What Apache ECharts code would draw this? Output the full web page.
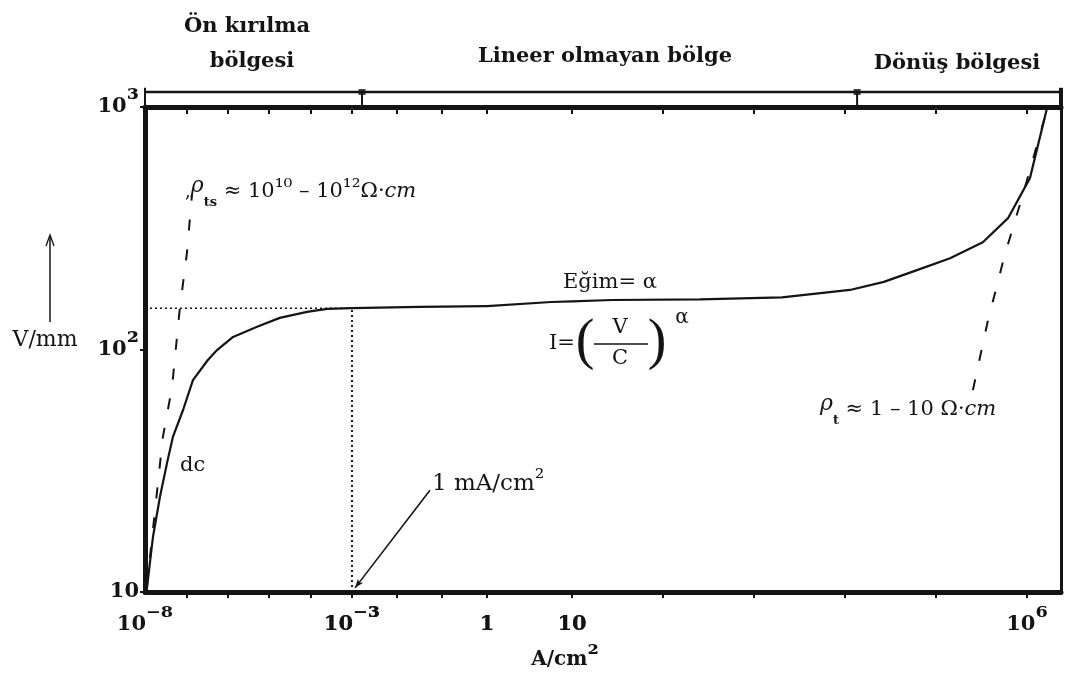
<!DOCTYPE html>
<html>
<head>
<meta charset="utf-8">
<script src="https://cdn.jsdelivr.net/npm/echarts@6/dist/echarts.min.js"></script>
<style>
  html, body { margin: 0; padding: 0; background: #ffffff; }
  #chart { width: 1066px; height: 681px; }
</style>
</head>
<body>
<div id="chart"></div>
<script>
// ---- axis ranges --------------------------------------------------------
// Current density (A/cm²): the drawing uses a different decade spacing
// on each of these stretches, so each stretch gets its own log axis.
const segmentBounds = [1e-8, 1e-3, 1, 10, 2.37e6];
const fieldRange = [10, 1000];               // V/mm

// ---- tick labels ---------------------------------------------------------
const xTickValues  = [1e-7, 1e-6, 1e-5, 1e-4, 1e-3, 1e-2, 1e-1, 1, 10, 100, 1e3, 1e4, 1e5, 1e6];
const xLabelValues = [1e-8, 1e-3, 1, 10, 1e6];
const yLabelValues = [10, 100, 1000];

// ---- V–I characteristic (dc) -------------------------------------------
const curveJ = [1.1e-8, 1.56e-8, 2.3e-8, 3.4e-8, 4.7e-8, 8.3e-8, 1.44e-7, 3.3e-7, 5.5e-7,
                1.34e-6, 5.1e-6, 1.8e-5, 8.2e-5, 2.5e-4, 1e-3, 0.032, 1, 5.7, 27.5, 255,
                2030, 11350, 2.68e4, 6.3e4, 1.43e5, 3.28e5, 6.2e5, 1.08e6, 1.66e6];
const curveV = [10.2, 16.9, 24.7, 34.0, 43.5, 56.3, 74.8, 90.5, 99.5,
                112.7, 124, 135, 143, 147, 148, 150, 151, 157, 160, 161,
                164, 176, 190, 213, 238, 277, 348, 509, 985];

// ---- ohmic asymptotes ---------------------------------------------------
const preBreakJ = [1.1e-8, 2.7e-8, 4.5e-8, 7.0e-8, 1.03e-7, 1.36e-7];   // ρts ≈ 10^10–10^12 Ω·cm
const preBreakV = [10.4, 43.5, 70, 150, 250, 433];
const upturnJ   = [2.55e5, 3.7e5, 5.7e5, 9.0e5, 1.66e6];               // ρt ≈ 1–10 Ω·cm
const upturnV   = [68, 130, 245, 433, 972];

// ---- 1 mA/cm² reference point -------------------------------------------
const refJ = 1e-3;
const refV = 148;
const pointerJ = [1.17e-3, 0.054];
const pointerV = [10.4, 26.3];

// ---- region bracket above the plot --------------------------------------
const regionEdges = [1e-8, 1.67e-3, 1.36e4, 2.37e6];
const bracketV = 1153;
const bracketTopV = 1200;

// ---- layout ------------------------------------------------------------
const plotTop = 107, plotBottom = 592;
const segLeft  = [145, 352, 487, 572];
const segRight = [352, 487, 572, 1061];
const INK = '#141414';
const SERIF = 'DejaVu Serif';

// Clip a log–log polyline to one axis stretch [a, b]
function clipToSegment(xs, ys, a, b) {
  const la = Math.log10(a), lb = Math.log10(b);
  const out = [];
  const eps = 1e-9;
  for (let k = 0; k < xs.length - 1; k++) {
    const x0 = Math.log10(xs[k]), y0 = Math.log10(ys[k]);
    const x1 = Math.log10(xs[k + 1]), y1 = Math.log10(ys[k + 1]);
    const dx = x1 - x0;
    let t0 = 0, t1 = 1;
    if (Math.abs(dx) < eps) {
      if (x0 < la - eps || x0 > lb + eps) continue;
    } else {
      const ta = (la - x0) / dx, tb = (lb - x0) / dx;
      t0 = Math.max(0, Math.min(ta, tb));
      t1 = Math.min(1, Math.max(ta, tb));
      if (t0 > t1) continue;
    }
    const pA = [Math.pow(10, x0 + dx * t0), Math.pow(10, y0 + (y1 - y0) * t0)];
    const pB = [Math.pow(10, x0 + dx * t1), Math.pow(10, y0 + (y1 - y0) * t1)];
    const last = out[out.length - 1];
    if (!last || Math.abs(Math.log10(last[0]) - Math.log10(pA[0])) > 1e-6 ||
        Math.abs(Math.log10(last[1]) - Math.log10(pA[1])) > 1e-6) {
      if (last) out.push('-');
      out.push(pA);
    }
    out.push(pB);
  }
  return out;
}

function polySeries(name, xs, ys, lineStyle, z) {
  const list = [];
  for (let i = 0; i < segLeft.length; i++) {
    const data = clipToSegment(xs, ys, segmentBounds[i], segmentBounds[i + 1]);
    if (data.length < 2) continue;
    list.push({
      name, type: 'line', xAxisIndex: i, yAxisIndex: i,
      data, showSymbol: false, symbol: 'none', clip: false, silent: true,
      connectNulls: false, lineStyle, z: z || 3
    });
  }
  return list;
}

// superscript digits for power-of-ten labels
const SUP = { '-': '⁻', '0': '⁰', '1': '¹', '2': '²', '3': '³', '4': '⁴',
              '5': '⁵', '6': '⁶', '7': '⁷', '8': '⁸', '9': '⁹' };
function sup(s) { return String(s).split('').map(c => SUP[c] || c).join(''); }

function powLabel(v) {
  if (v === 1) return '{b|1}';
  if (v === 10) return '{b|10}';
  const e = Math.round(Math.log10(v));
  return '{b|10}{s|' + sup(e) + '}';
}

const tickRich = {
  b: { fontFamily: SERIF, fontWeight: 'bold', fontSize: 21, lineHeight: 30, color: INK },
  s: { fontFamily: SERIF, fontWeight: 'bold', fontSize: 28, lineHeight: 28, padding: [0, 0, 10, 0], color: INK }
};

const grids = [], xAxes = [], yAxes = [];
for (let i = 0; i < segLeft.length; i++) {
  grids.push({ left: segLeft[i], top: plotTop, width: segRight[i] - segLeft[i],
               height: plotBottom - plotTop, containLabel: false, outerBoundsMode: 'none' });
  const lo = segmentBounds[i], hi = segmentBounds[i + 1];
  const inRange = v => v >= lo * 0.999 && v <= hi * 1.001;
  const ticks = xTickValues.filter(inRange);
  xAxes.push({
    type: 'log', logBase: 10, gridIndex: i, position: 'bottom', min: lo, max: hi,
    axisLine: { show: true, lineStyle: { color: INK, width: 5 } },
    axisTick: { show: true, inside: false, length: 6, customValues: ticks,
                lineStyle: { color: INK, width: 2 } },
    axisLabel: { show: true, margin: 18, customValues: xLabelValues.filter(inRange),
                 formatter: powLabel, rich: tickRich },
    splitLine: { show: false }
  });
  xAxes.push({
    type: 'log', logBase: 10, gridIndex: i, position: 'top', min: lo, max: hi,
    axisLine: { show: true, lineStyle: { color: INK, width: 5 } },
    axisTick: { show: true, inside: true, length: 7, customValues: ticks,
                lineStyle: { color: INK, width: 2 } },
    axisLabel: { show: false },
    splitLine: { show: false }
  });
  const y = {
    type: 'log', logBase: 10, gridIndex: i, min: fieldRange[0], max: fieldRange[1],
    splitLine: { show: false }
  };
  if (i === 0) {
    Object.assign(y, {
      position: 'left',
      axisLine: { show: true, lineStyle: { color: INK, width: 5 } },
      axisTick: { show: true, inside: false, length: 5, customValues: yLabelValues,
                  lineStyle: { color: INK, width: 2 } },
      axisLabel: { show: true, margin: 6, customValues: yLabelValues,
                   formatter: powLabel, rich: tickRich }
    });
  } else if (i === segLeft.length - 1) {
    Object.assign(y, {
      position: 'right',
      axisLine: { show: true, lineStyle: { color: INK, width: 3 } },
      axisTick: { show: false }, axisLabel: { show: false }
    });
  } else {
    Object.assign(y, { axisLine: { show: false }, axisTick: { show: false }, axisLabel: { show: false } });
  }
  yAxes.push(y);
}
// x axes were pushed as (bottom, top) pairs; series use the bottom one of each grid
function bottomAxisIndex(i) { return 2 * i; }

const series = [];
function add(list) {
  list.forEach(s => { s.xAxisIndex = bottomAxisIndex(s.xAxisIndex); series.push(s); });
}

// main characteristic
add(polySeries('dc', curveJ, curveV, { color: INK, width: 2.2 }, 5));
// ohmic asymptotes (dashed)
add(polySeries('ρts', preBreakJ, preBreakV, { color: INK, width: 2, type: [11, 19] }, 4));
add(polySeries('ρt', upturnJ, upturnV, { color: INK, width: 2, type: [11, 19] }, 4));
// dotted guides to the 1 mA/cm² point
add(polySeries('guide-h', [segmentBounds[0], refJ], [refV, refV], { color: INK, width: 1.6, type: [2, 3] }, 4));
add(polySeries('guide-v', [refJ, refJ], [fieldRange[0], refV], { color: INK, width: 1.6, type: [2, 3] }, 4));
// region bracket
add(polySeries('bracket', [regionEdges[0], regionEdges[3]], [bracketV, bracketV], { color: INK, width: 2.5 }, 4));
add(polySeries('edge-l', [regionEdges[0], regionEdges[0]], [fieldRange[1], bracketTopV], { color: INK, width: 2 }, 4));
add(polySeries('edge-r', [regionEdges[3], regionEdges[3]], [fieldRange[1], bracketTopV], { color: INK, width: 4 }, 4));
[regionEdges[1], regionEdges[2]].forEach(e => {
  add(polySeries('divider', [e, e], [fieldRange[1], bracketV], { color: INK, width: 2 }, 4));
});
// junction markers on the bracket
for (let i = 0; i < segLeft.length; i++) {
  const lo = segmentBounds[i], hi = segmentBounds[i + 1];
  const pts = [regionEdges[1], regionEdges[2]].filter(v => v >= lo && v <= hi).map(v => [v, bracketV]);
  if (pts.length) {
    series.push({ type: 'scatter', xAxisIndex: bottomAxisIndex(i), yAxisIndex: i, data: pts,
                  symbol: 'rect', symbolSize: [7, 6], clip: false, silent: true,
                  itemStyle: { color: INK }, z: 6 });
  }
}
// pointer to the 1 mA/cm² point
series.push({
  type: 'line', xAxisIndex: bottomAxisIndex(1), yAxisIndex: 1, data: [], silent: true,
  markLine: {
    silent: true, animation: false, symbol: ['arrow', 'none'], symbolSize: [5, 9],
    label: { show: false },
    lineStyle: { color: INK, width: 1.6, type: 'solid' },
    data: [[{ coord: [pointerJ[0], pointerV[0]] }, { coord: [pointerJ[1], pointerV[1]] }]]
  }
});

// ---- annotation texts ---------------------------------------------------
const headFont = { fontFamily: SERIF, fontWeight: 'bold', fontSize: 21, fill: INK };
const bodyFont = { fontFamily: SERIF, fontSize: 21, fill: INK };
function txt(x, y, text, style, align) {
  return { type: 'text', x, y, z: 10, silent: true,
           style: Object.assign({ text, align: align || 'center', verticalAlign: 'middle' }, style) };
}
const resistRich = {
  c: { fontFamily: SERIF, fontSize: 18, lineHeight: 34, fill: INK },
  r: { fontFamily: SERIF, fontStyle: 'italic', fontSize: 22, lineHeight: 30, verticalAlign: 'top', fill: INK },
  t: { fontFamily: SERIF, fontWeight: 'bold', fontSize: 13, lineHeight: 13, verticalAlign: 'bottom', fill: INK },
  n: { fontFamily: SERIF, fontSize: 21, lineHeight: 34, fill: INK },
  p: { fontFamily: SERIF, fontSize: 22, lineHeight: 22, padding: [0, 0, 8, 0], fill: INK },
  i: { fontFamily: SERIF, fontStyle: 'italic', fontSize: 21, lineHeight: 34, fill: INK }
};
const unitRich = (size, weight, ratio) => ({
  a: { fontFamily: SERIF, fontWeight: weight, fontSize: size, lineHeight: 30, fill: INK },
  s: { fontFamily: SERIF, fontWeight: weight, fontSize: Math.round(size * ratio), lineHeight: 22,
       padding: [0, 0, 8, 0], fill: INK }
});
const graphic = [
  txt(247, 27, 'Ön kırılma', headFont),
  txt(252, 62, 'bölgesi', headFont),
  txt(605, 57, 'Lineer olmayan bölge', headFont),
  txt(957, 64, 'Dönüş bölgesi', headFont),
  // y-axis name with arrow
  txt(45, 340, 'V/mm', { fontFamily: SERIF, fontSize: 22, fill: INK }),
  { type: 'line', z: 10, silent: true, shape: { x1: 50, y1: 322, x2: 50, y2: 236 },
    style: { stroke: INK, lineWidth: 1.5 } },
  { type: 'polyline', z: 10, silent: true, shape: { points: [[46, 246], [50, 235], [54, 246]] },
    style: { stroke: INK, lineWidth: 1.3, fill: null } },
  // x-axis name
  { type: 'text', x: 565, y: 660, z: 10, silent: true,
    style: { text: '{a|A/cm}{s|²}', align: 'center', verticalAlign: 'middle', rich: unitRich(20, 'bold', 1.3) } },
  // slope label and law
  txt(563, 283, 'Eğim= α', bodyFont, 'left'),
  txt(549, 344, 'I=', bodyFont, 'left'),
  txt(585, 343, '(', { fontFamily: 'Liberation Serif', fontSize: 56, fill: INK }),
  txt(620, 328, 'V', bodyFont),
  { type: 'line', z: 10, silent: true, shape: { x1: 594, y1: 344, x2: 648, y2: 344 },
    style: { stroke: INK, lineWidth: 1.5 } },
  txt(620, 359, 'C', bodyFont),
  txt(657, 343, ')', { fontFamily: 'Liberation Serif', fontSize: 56, fill: INK }),
  txt(682, 318, 'α', { fontFamily: SERIF, fontSize: 20, fill: INK }),
  // dc label
  txt(180, 466, 'dc', bodyFont, 'left'),
  // 1 mA/cm²
  { type: 'text', x: 432, y: 484, z: 10, silent: true,
    style: { text: '{a|1 mA/cm}{s|²}', align: 'left', verticalAlign: 'middle', rich: unitRich(23, 'normal', 1.05) } },
  // resistivity labels
  { type: 'text', x: 185, y: 192, z: 10, silent: true,
    style: { text: '{c|,}{r|ρ}{t|ts}{n| ≈ 10}{p|¹⁰}{n| – 10}{p|¹²}{n|Ω·}{i|cm}', align: 'left',
             verticalAlign: 'middle', rich: resistRich } },
  { type: 'text', x: 820, y: 410, z: 10, silent: true,
    style: { text: '{r|ρ}{t|t}{n| ≈ 1 – 10 Ω·}{i|cm}', align: 'left', verticalAlign: 'middle',
             rich: resistRich } }
];

const chart = echarts.init(document.getElementById('chart'));
chart.setOption({
  backgroundColor: '#ffffff',
  animation: false,
  grid: grids,
  xAxis: xAxes,
  yAxis: yAxes,
  series,
  graphic
});
</script>
</body>
</html>
